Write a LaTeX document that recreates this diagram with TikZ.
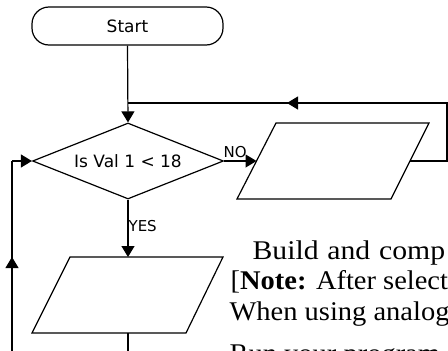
\documentclass[tikz,border=0pt]{standalone}
\usepackage{fontspec}
\setmainfont{Liberation Serif}
\newfontfamily\flowfont{DejaVu Sans}
\usetikzlibrary{shapes.geometric,arrows.meta}
\begin{document}
\begin{tikzpicture}[x=1pt,y=-1pt,line width=1.2pt,
  arr/.style={-{Triangle[length=11pt,width=13pt]}},
  term/.style={draw,rectangle,rounded corners=17pt,minimum width=191pt,minimum height=38pt,inner sep=0pt,font=\flowfont\fontsize{17}{20}\selectfont},
  dec/.style={draw,diamond,aspect=2.5,minimum width=191pt,minimum height=76pt,inner sep=0pt,font=\flowfont\fontsize{17}{20}\selectfont},
  io/.style={draw,line join=miter},
  lbl/.style={font=\flowfont\fontsize{15}{18}\selectfont,inner sep=0pt},
  body/.style={anchor=base west,inner sep=0pt,font=\fontsize{27}{30}\selectfont}]
\useasboundingbox (0,0) rectangle (448,351);
\fill[white] (0,0) rectangle (448,351);
\clip (0,0) rectangle (448,351);
% nodes
\node[term] (start) at (127.5,26) {Start};
\node[dec] (dec) at (128,161) {Is Val 1 < 18};
% parallelograms (input/output)
\draw[io] (276,123) -- (429,123) -- (391,199) -- (237,199) -- cycle;
\draw[io] (70,257) -- (223,257) -- (186,333) -- (32,333) -- cycle;
% coordinates
\coordinate (p1w) at (256.5,161);
\coordinate (p1e) at (410,161);
\coordinate (p2n) at (128,257);
\coordinate (p2s) at (128,333);
\coordinate (j) at (128,103);
\coordinate (c1) at (447,161);
\coordinate (c2) at (447,103);
\coordinate (m1) at (287,103);
\coordinate (bl) at (12,352);
\coordinate (ml) at (12,161);
\coordinate (ma) at (12,257);
\coordinate (bc) at (128,352);
% connectors
\draw[arr] (start.south) -- (dec.north);
\draw (p1e) -- (c1) -- (c2) -- (j);
\draw[arr] (c2) -- (m1);
\draw[arr] (dec.east) -- (p1w);
\draw[arr] (dec.south) -- (p2n);
\draw (p2s) -- (bc);
\draw (bl) -- (ml);
\draw[arr] (bl) -- (ma);
\draw[arr] (ml) -- (dec.west);
% labels
\node[lbl,anchor=south west] (no) at (223,158) {NO};
\node[lbl,anchor=west] (yes) at (128,226) {YES};
% body text
\node[body] (t1) at (252,259) {\scalebox{1.1}[1]{\makebox[175pt][s]{Build and comp}}};
\node[body] (t2) at (230,289) {\scalebox{1.055}[1]{[\textbf{Note:} After select}};
\node[body] (t3) at (229,320) {\scalebox{1.055}[1]{When using analog}};
\node[body] (t4) at (229,362) {\scalebox{1.055}[1]{Run your program}};
\end{tikzpicture}
\end{document}
